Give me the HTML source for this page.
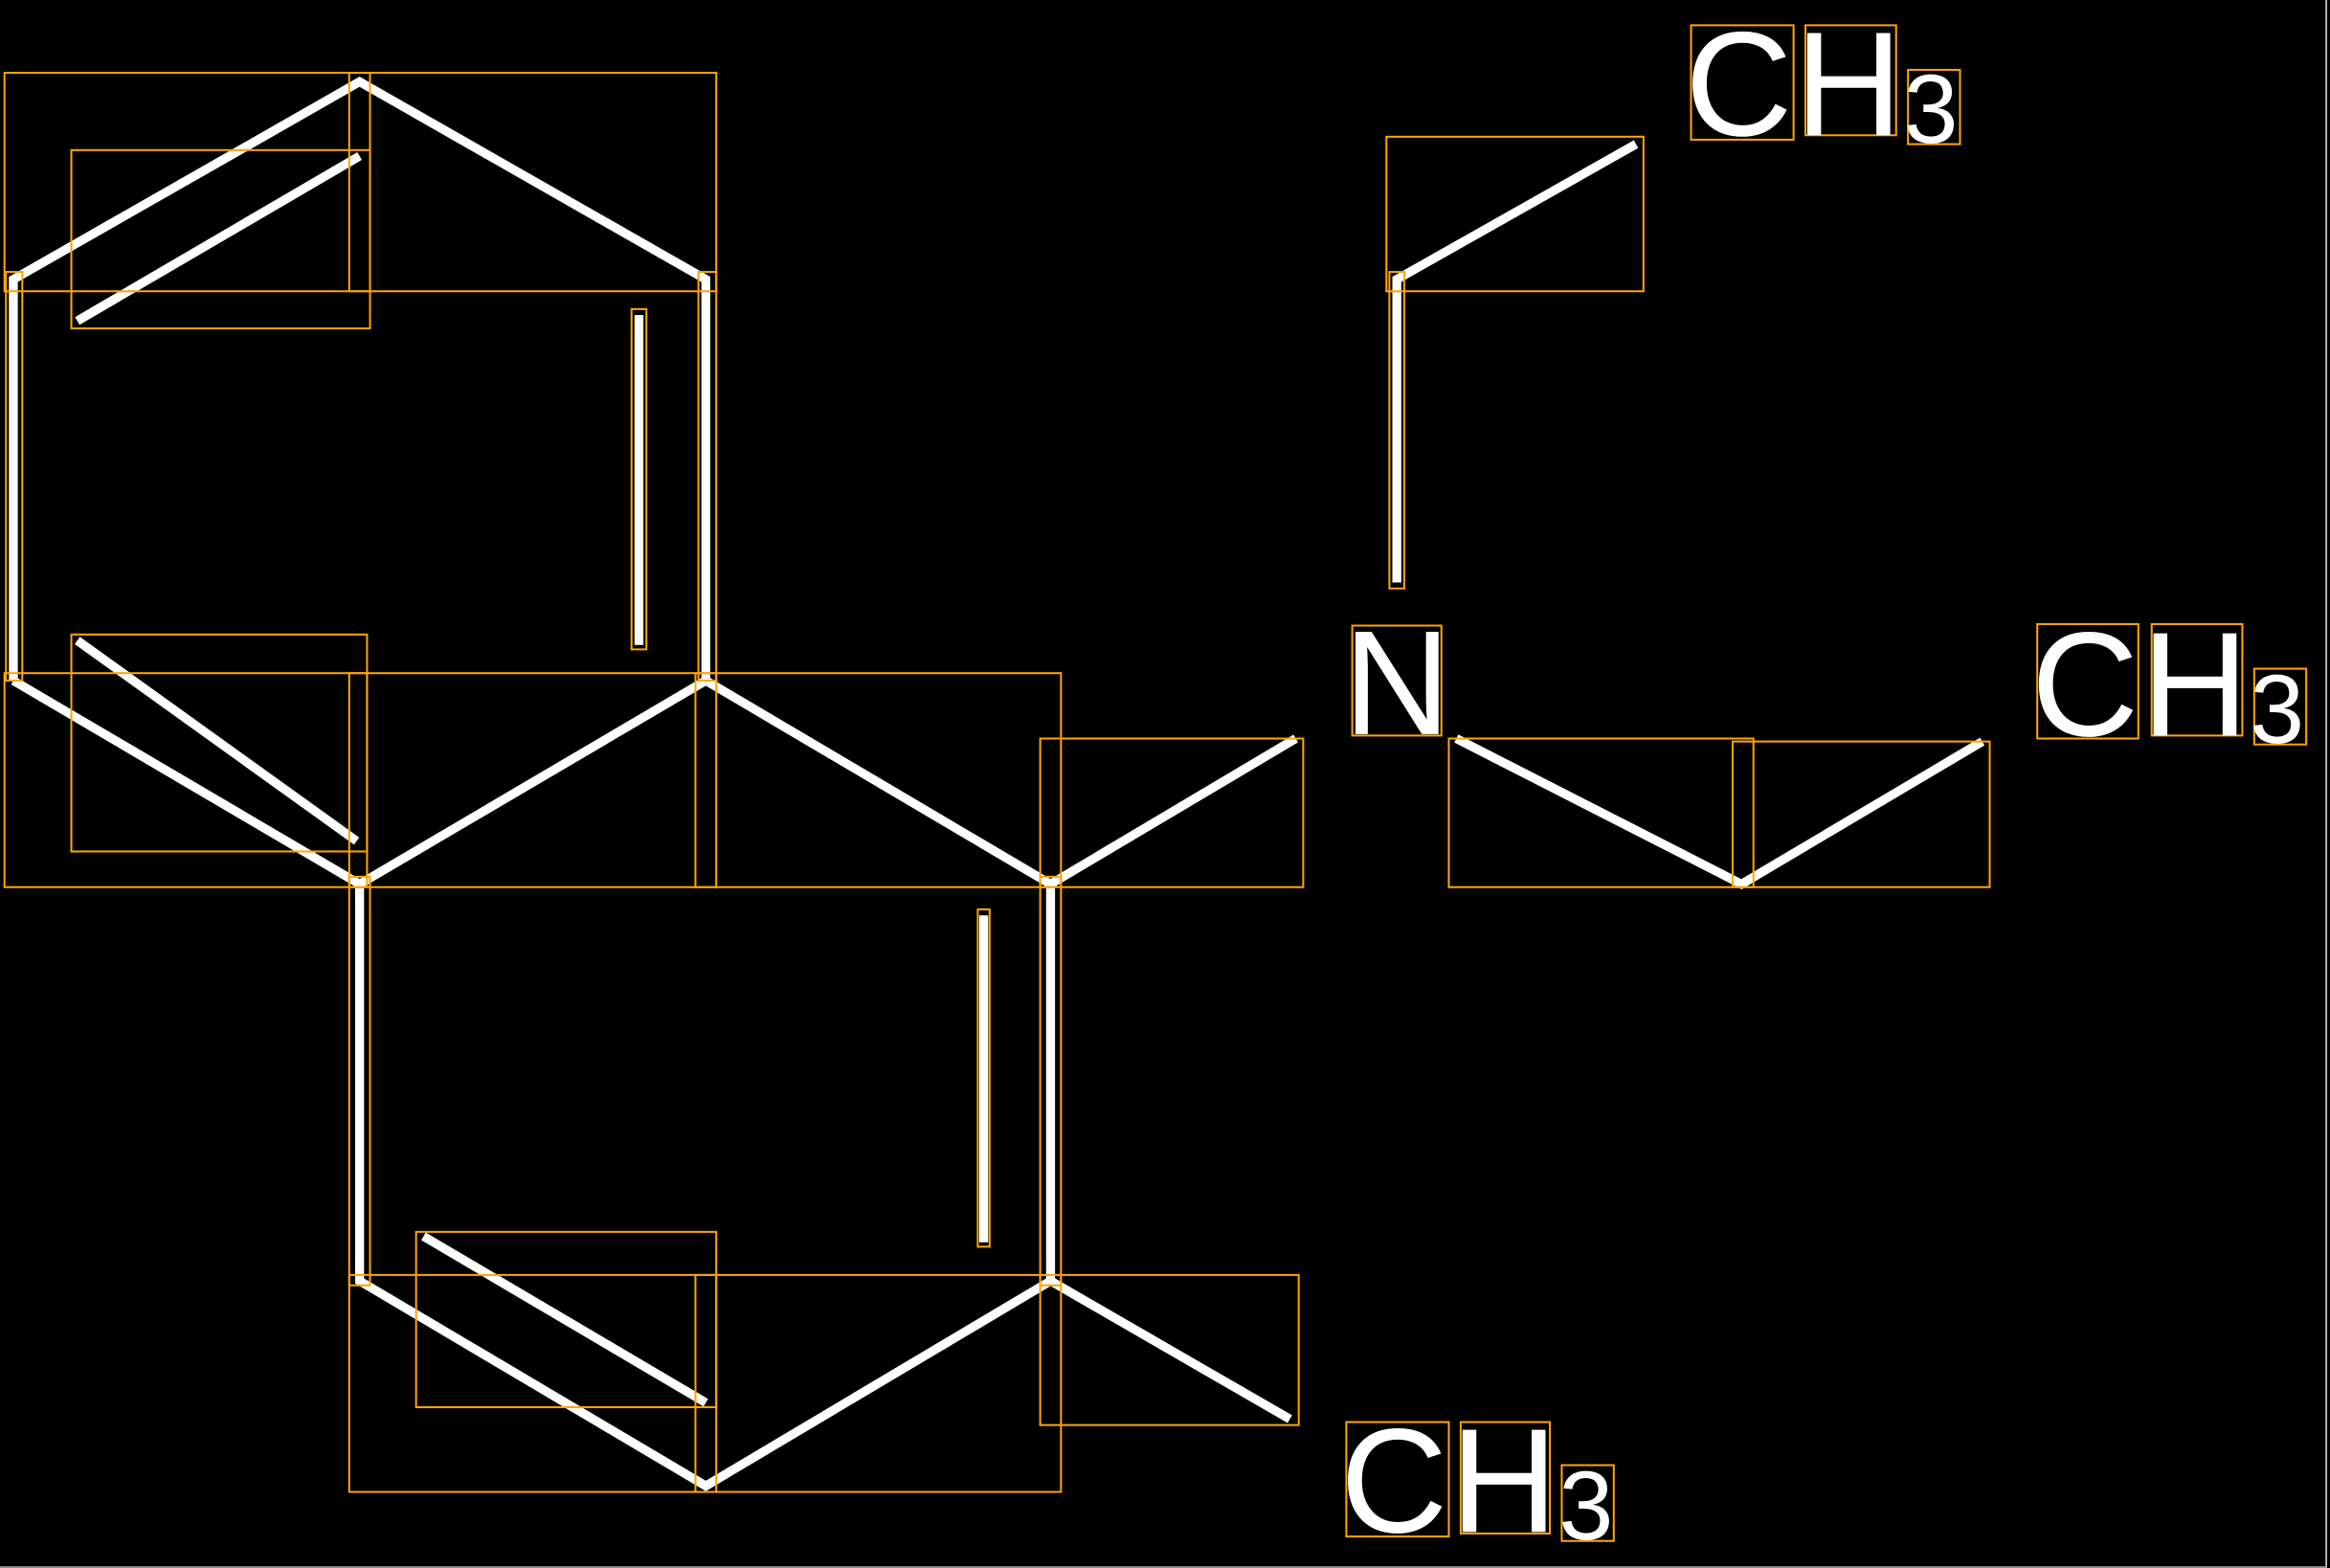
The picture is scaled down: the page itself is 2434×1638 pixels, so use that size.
<!DOCTYPE html>
<html><head><meta charset="utf-8"><style>
html,body{margin:0;padding:0;background:#000;}
svg{display:block;}
text{font-family:"Liberation Sans",sans-serif;fill:#fff;}
</style></head><body>
<svg width="2434" height="1638" viewBox="0 0 1568 1055.2" xmlns="http://www.w3.org/2000/svg">
<rect width="1568" height="1056" fill="#000"/>
<line x1="1565.5" y1="0" x2="1565.5" y2="1055" stroke="#ddd" stroke-width="1"/>
<line x1="0" y1="1054.6" x2="1566" y2="1054.6" stroke="#aaa" stroke-width="1"/>
<g stroke="#fff" stroke-width="6" stroke-linecap="butt" fill="none">
<polyline points="9,458 9,188 242,55 475,188 475,458"/>
<line x1="52" y1="216" x2="242" y2="105"/>
<line x1="430" y1="212" x2="430" y2="434"/>
<polyline points="9,458 242,595 475,458 707,595 707,862 475,1000 242,862 242,595"/>
<line x1="52" y1="431" x2="240" y2="566"/>
<line x1="662" y1="616" x2="662" y2="836"/>
<line x1="285" y1="832" x2="475" y2="944"/>
<line x1="707" y1="595" x2="872" y2="497"/>
<line x1="707" y1="862" x2="868" y2="955"/>
<polyline points="940,392 940,188 1101,97"/>
<polyline points="980,497 1172,595 1334,499"/>
</g>
<g stroke="#FFA500" stroke-width="1.3" fill="none">
<rect x="3" y="49" width="479" height="147"/>
<rect x="235" y="49" width="14" height="147"/>
<rect x="48" y="101" width="201" height="120"/>
<rect x="4" y="183" width="11" height="275"/>
<rect x="470" y="183" width="12" height="275"/>
<rect x="425" y="208" width="10" height="229"/>
<rect x="48" y="427" width="199" height="146"/>
<rect x="3" y="453" width="244" height="144"/>
<rect x="235" y="453" width="479" height="144"/>
<rect x="468" y="453" width="14" height="144"/>
<rect x="700" y="497" width="177" height="100"/>
<rect x="235" y="590" width="14" height="275"/>
<rect x="700" y="590" width="14" height="275"/>
<rect x="658" y="612" width="8" height="227"/>
<rect x="280" y="829" width="202" height="118"/>
<rect x="235" y="858" width="479" height="146"/>
<rect x="468" y="858" width="14" height="146"/>
<rect x="700" y="858" width="174" height="101"/>
<rect x="933" y="92" width="173" height="104"/>
<rect x="935" y="183" width="10" height="213"/>
<rect x="975" y="497" width="205" height="100"/>
<rect x="1166" y="499" width="173" height="98"/>
<rect x="906" y="957" width="69" height="77"/>
<rect x="983" y="957" width="60" height="75"/>
<rect x="1051" y="986" width="35" height="51"/>
<rect x="1138" y="17" width="69" height="77"/>
<rect x="1215" y="17" width="61" height="74"/>
<rect x="1284" y="47" width="35" height="50"/>
<rect x="910" y="421" width="60" height="74"/>
<rect x="1371" y="420" width="68" height="77"/>
<rect x="1448" y="420" width="61" height="75"/>
<rect x="1517" y="450" width="35" height="51"/>
</g>
<text x="1134" y="91" font-size="100">C</text>
<text x="1208" y="91" font-size="100">H</text>
<text x="1281" y="96" font-size="66">3</text>
<text x="904" y="494" font-size="100">N</text>
<text x="1367" y="495" font-size="100">C</text>
<text x="1441" y="495" font-size="100">H</text>
<text x="1514" y="500" font-size="66">3</text>
<text x="902" y="1031" font-size="100">C</text>
<text x="976" y="1031" font-size="100">H</text>
<text x="1049" y="1036" font-size="66">3</text>
</svg>
</body></html>
